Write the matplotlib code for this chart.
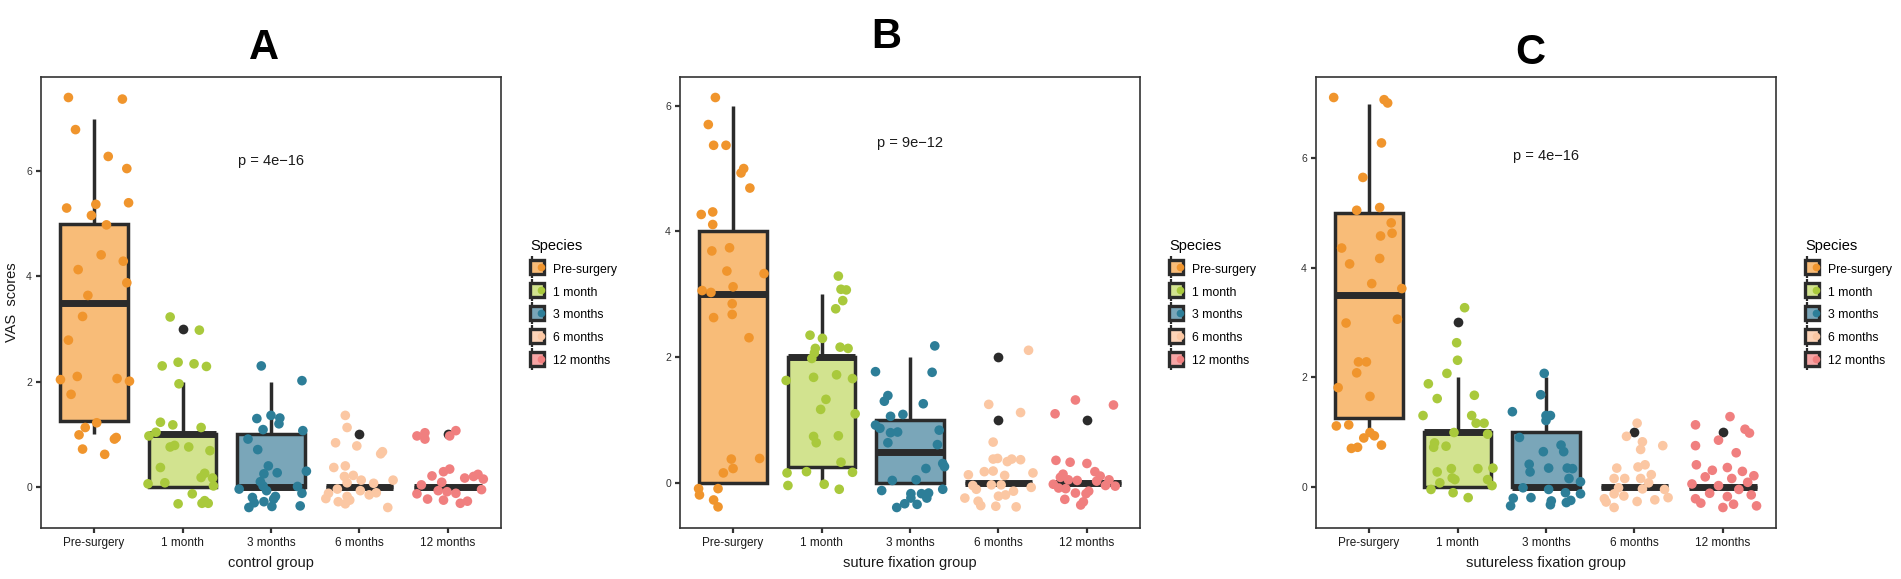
import matplotlib.pyplot as plt
from matplotlib.lines import Line2D
from matplotlib.legend_handler import HandlerTuple

plt.rcParams['font.family'] = ['Liberation Sans', 'DejaVu Sans']

groups = ["Pre-surgery", "1 month", "3 months", "6 months", "12 months"]
dot_colors = ["#F0952D", "#A9C93C", "#2D7E98", "#FBC7A3", "#F07F7F"]
fill_colors = ["#F8BC78", "#D2E38F", "#7AA6B9", "#FDD4B8", "#F6A5A5"]
dark = "#2B2B2B"

panel_titles = ["A", "B", "C"]
x_titles = ["control group", "suture fixation group", "sutureless fixation group"]
p_labels = ["p = 4e\u221216", "p = 9e\u221212", "p = 4e\u221216"]
p_label_y = [6.2, 5.4, 6.05]

# box statistics per group (whisker low, Q1, median, Q3, whisker high)
a_whislo = [1, 0, 0, 0, 0]
a_q1 = [1.25, 0, 0, 0, 0]
a_med = [3.5, 1, 0, 0, 0]
a_q3 = [5, 1, 1, 0, 0]
a_whishi = [7, 2, 2, 0, 0]
a_out = [[], [3], [], [1], [1]]

b_whislo = [0, 0, 0, 0, 0]
b_q1 = [0, 0.25, 0, 0, 0]
b_med = [3, 2, 0.5, 0, 0]
b_q3 = [4, 2, 1, 0, 0]
b_whishi = [6, 3, 2, 0, 0]
b_out = [[], [], [], [1, 2], [1]]

c_whislo = [1, 0, 0, 0, 0]
c_q1 = [1.25, 0, 0, 0, 0]
c_med = [3.5, 1, 0, 0, 0]
c_q3 = [5, 1, 1, 0, 0]
c_whishi = [7, 2, 2, 0, 0]
c_out = [[], [3], [], [1], [1]]

# jittered points: (offset from group centre, score)
a_pre = [(-0.29, 7.40), (0.32, 7.37), (-0.21, 6.79), (0.16, 6.28), (0.37, 6.05), (-0.31, 5.30),
         (0.02, 5.37), (0.39, 5.40), (-0.03, 5.16), (0.14, 4.98), (0.08, 4.41), (0.33, 4.29),
         (-0.18, 4.13), (0.37, 3.88), (-0.07, 3.64), (-0.13, 3.24), (-0.29, 2.79), (-0.19, 2.10),
         (-0.38, 2.04), (0.26, 2.06), (0.40, 2.01), (-0.26, 1.76), (0.03, 1.22), (-0.10, 1.13),
         (-0.17, 0.99), (0.25, 0.94), (0.23, 0.91), (-0.13, 0.72), (0.12, 0.62)]
a_1m = [(-0.14, 3.23), (0.19, 2.98), (-0.23, 2.30), (-0.05, 2.37), (0.13, 2.34), (0.27, 2.29),
        (-0.04, 1.96), (-0.25, 1.23), (-0.11, 1.18), (0.21, 1.13), (-0.30, 1.04), (-0.38, 0.97),
        (-0.14, 0.76), (-0.09, 0.79), (0.07, 0.76), (0.31, 0.69), (-0.25, 0.37), (0.25, 0.26),
        (0.21, 0.18), (0.34, 0.17), (-0.20, 0.08), (-0.39, 0.06), (0.35, 0.02), (0.11, -0.13),
        (-0.05, -0.32), (0.22, -0.31), (0.29, -0.31), (0.25, -0.26)]
a_3m = [(-0.11, 2.30), (0.35, 2.02), (-0.16, 1.30), (0.00, 1.36), (0.10, 1.31), (0.09, 1.20),
        (-0.09, 1.09), (0.36, 1.07), (-0.26, 0.91), (-0.15, 0.71), (-0.03, 0.40), (0.40, 0.30),
        (-0.08, 0.25), (0.07, 0.27), (-0.12, 0.10), (-0.09, 0.02), (0.30, 0.01), (-0.36, -0.04),
        (-0.05, -0.07), (0.35, -0.12), (-0.21, -0.20), (0.05, -0.18), (-0.19, -0.30), (-0.08, -0.28),
        (0.03, -0.23), (-0.25, -0.39), (0.01, -0.37), (0.33, -0.36)]
a_6m = [(-0.16, 1.36), (-0.14, 1.13), (-0.27, 0.84), (-0.03, 0.78), (0.26, 0.67), (0.24, 0.63),
        (-0.29, 0.37), (-0.16, 0.40), (-0.07, 0.22), (-0.17, 0.20), (0.02, 0.13), (0.38, 0.13),
        (-0.14, 0.08), (0.16, 0.07), (-0.25, -0.04), (0.01, -0.07), (0.19, -0.11), (0.11, -0.15),
        (-0.35, -0.12), (-0.38, -0.22), (-0.14, -0.18), (-0.24, -0.28), (-0.16, -0.32), (-0.11, -0.25),
        (0.32, -0.39)]
a_12m = [(-0.35, 0.97), (-0.26, 1.03), (-0.26, 0.91), (0.02, 0.97), (0.09, 1.07), (-0.18, 0.21),
         (-0.05, 0.29), (0.02, 0.34), (0.19, 0.17), (0.29, 0.20), (0.34, 0.24), (-0.30, 0.04),
         (-0.07, 0.09), (-0.35, -0.13), (-0.11, -0.07), (-0.01, -0.09), (0.09, -0.12), (-0.23, -0.23),
         (-0.05, -0.25), (0.14, -0.31), (0.22, -0.27), (0.40, 0.15), (0.38, -0.05)]

b_pre = [(-0.20, 6.13), (-0.28, 5.70), (-0.22, 5.37), (-0.08, 5.37), (0.12, 5.00), (0.09, 4.93),
         (0.19, 4.69), (-0.36, 4.27), (-0.23, 4.31), (-0.23, 4.11), (-0.24, 3.69), (-0.04, 3.74),
         (-0.07, 3.37), (0.35, 3.33), (0.00, 3.12), (-0.35, 3.06), (-0.25, 3.03), (-0.01, 2.85),
         (-0.01, 2.68), (-0.22, 2.63), (0.18, 2.31), (-0.02, 0.38), (0.30, 0.39), (0.00, 0.23),
         (-0.11, 0.16), (-0.39, -0.09), (-0.17, -0.09), (-0.38, -0.19), (-0.22, -0.27), (-0.17, -0.38)]
b_1m = [(0.19, 3.29), (0.22, 3.08), (0.28, 3.07), (0.24, 2.90), (0.16, 2.77), (-0.13, 2.35),
        (0.01, 2.30), (-0.07, 2.14), (-0.08, 2.07), (-0.11, 1.98), (0.21, 2.16), (0.30, 2.14),
        (-0.40, 1.63), (-0.09, 1.68), (0.17, 1.72), (0.35, 1.66), (0.05, 1.33), (-0.01, 1.17),
        (0.38, 1.10), (-0.09, 0.74), (-0.06, 0.64), (0.19, 0.75), (0.22, 0.33), (-0.39, 0.16),
        (-0.17, 0.18), (0.35, 0.17), (-0.38, -0.04), (0.03, -0.02), (0.20, -0.10)]
b_3m = [(0.28, 2.18), (-0.39, 1.77), (0.25, 1.76), (-0.25, 1.39), (-0.29, 1.30), (0.15, 1.26),
        (-0.22, 1.06), (-0.08, 1.09), (-0.39, 0.92), (-0.34, 0.87), (-0.22, 0.80), (-0.14, 0.81),
        (0.33, 0.84), (-0.25, 0.64), (0.31, 0.61), (-0.20, 0.04), (0.07, 0.05), (0.18, 0.23),
        (0.37, 0.31), (0.39, 0.26), (-0.32, -0.12), (0.37, -0.10), (0.01, -0.17), (0.13, -0.17),
        (0.21, -0.16), (0.01, -0.24), (0.19, -0.24), (-0.06, -0.33), (0.08, -0.34), (-0.15, -0.39)]
b_6m = [(0.34, 2.11), (-0.11, 1.25), (0.25, 1.12), (-0.06, 0.65), (-0.06, 0.38), (-0.01, 0.39),
        (0.10, 0.34), (0.15, 0.38), (0.25, 0.37), (-0.16, 0.18), (-0.06, 0.19), (-0.34, 0.13),
        (0.07, 0.12), (0.39, 0.16), (-0.29, -0.04), (-0.08, -0.03), (0.03, -0.03), (-0.25, -0.10),
        (0.17, -0.13), (0.37, -0.07), (0.00, -0.21), (0.08, -0.19), (-0.38, -0.24), (-0.23, -0.29),
        (-0.20, -0.36), (-0.03, -0.37), (0.20, -0.38)]
b_12m = [(-0.13, 1.32), (0.30, 1.24), (-0.36, 1.10), (-0.35, 0.36), (-0.19, 0.33), (0.00, 0.31),
         (0.09, 0.18), (-0.27, 0.14), (0.15, 0.11), (0.25, 0.05), (-0.30, 0.09), (-0.21, 0.05),
         (-0.11, 0.04), (-0.38, -0.02), (0.11, 0.03), (0.21, -0.04), (0.32, -0.05), (-0.32, -0.08),
         (-0.24, -0.09), (0.02, -0.13), (-0.13, -0.16), (-0.25, -0.26), (-0.04, -0.30), (-0.07, -0.35),
         (-0.01, -0.17)]

c_pre = [(-0.40, 7.11), (0.17, 7.07), (0.21, 7.01), (0.14, 6.28), (-0.07, 5.65), (-0.14, 5.05),
         (0.12, 5.10), (0.25, 4.82), (0.13, 4.58), (0.26, 4.63), (-0.31, 4.36), (-0.22, 4.07),
         (0.12, 4.17), (0.03, 3.71), (0.37, 3.62), (-0.26, 2.99), (0.32, 3.06), (-0.12, 2.28),
         (-0.03, 2.28), (-0.14, 2.08), (-0.35, 1.81), (0.01, 1.65), (-0.37, 1.11), (-0.23, 1.13),
         (-0.06, 0.89), (0.01, 0.99), (0.06, 0.93), (0.14, 0.76), (-0.20, 0.70), (-0.13, 0.72)]
c_1m = [(0.08, 3.27), (-0.01, 2.63), (0.00, 2.31), (-0.12, 2.07), (-0.33, 1.88), (-0.23, 1.61),
        (0.19, 1.67), (-0.39, 1.30), (0.16, 1.30), (0.21, 1.16), (0.30, 1.16), (-0.04, 0.99),
        (0.34, 0.96), (-0.26, 0.80), (-0.27, 0.72), (-0.13, 0.74), (-0.23, 0.27), (-0.07, 0.33),
        (0.23, 0.33), (0.40, 0.34), (-0.06, 0.16), (-0.03, 0.13), (0.34, 0.13), (-0.20, 0.07),
        (0.39, 0.02), (-0.30, -0.05), (-0.05, -0.11), (0.12, -0.20)]
c_3m = [(-0.02, 2.07), (-0.06, 1.68), (-0.38, 1.37), (0.00, 1.30), (0.05, 1.30), (0.00, 1.21),
        (-0.30, 0.90), (0.17, 0.76), (-0.03, 0.64), (0.20, 0.64), (-0.19, 0.41), (-0.18, 0.27),
        (0.03, 0.34), (0.24, 0.34), (0.30, 0.33), (0.26, 0.15), (0.39, 0.09), (-0.26, -0.02),
        (0.03, -0.05), (0.22, -0.11), (0.39, -0.13), (-0.37, -0.21), (-0.17, -0.20), (0.28, -0.25),
        (0.06, -0.26), (0.23, -0.29), (0.05, -0.33), (-0.40, -0.35)]
c_6m = [(0.03, 1.16), (-0.09, 0.92), (0.09, 0.82), (0.07, 0.68), (0.32, 0.75), (-0.20, 0.34),
        (0.04, 0.36), (0.12, 0.40), (-0.23, 0.15), (-0.11, 0.15), (0.07, 0.15), (0.19, 0.22),
        (0.16, 0.07), (-0.18, -0.02), (0.09, -0.04), (0.34, -0.05), (-0.34, -0.22), (-0.23, -0.13),
        (-0.12, -0.17), (0.03, -0.27), (0.23, -0.24), (0.38, -0.20), (-0.32, -0.28), (-0.23, -0.38)]
c_12m = [(-0.31, 1.13), (-0.31, 0.75), (0.08, 1.28), (0.25, 1.05), (0.30, 0.98), (-0.05, 0.85),
         (0.15, 0.62), (-0.30, 0.40), (-0.12, 0.30), (0.05, 0.35), (0.22, 0.28), (0.35, 0.20),
         (-0.20, 0.18), (0.10, 0.15), (0.28, 0.08), (-0.35, 0.05), (-0.05, 0.02), (0.18, -0.05),
         (-0.31, -0.22), (-0.15, -0.12), (0.05, -0.18), (0.32, -0.15), (-0.25, -0.30), (0.12, -0.32),
         (0.38, -0.35), (0.00, -0.38)]

panels = [
    (a_whislo, a_q1, a_med, a_q3, a_whishi, a_out, [a_pre, a_1m, a_3m, a_6m, a_12m]),
    (b_whislo, b_q1, b_med, b_q3, b_whishi, b_out, [b_pre, b_1m, b_3m, b_6m, b_12m]),
    (c_whislo, c_q1, c_med, c_q3, c_whishi, c_out, [c_pre, c_1m, c_3m, c_6m, c_12m]),
]

W, H = 1901, 579
fig = plt.figure(figsize=(W / 100, H / 100), dpi=100)

ax_left_px = [41, 680, 1316]
ax_w_px, ax_top_px, ax_bot_px = 460, 77, 528
title_xy_px = [(264, 48), (886, 37), (1530, 53)]

for k, (wlo, q1, med, q3, whi, outs, pts) in enumerate(panels):
    ax = fig.add_axes([ax_left_px[k] / W, 1 - ax_bot_px / H,
                       ax_w_px / W, (ax_bot_px - ax_top_px) / H])

    stats = []
    for i in range(len(groups)):
        stats.append({"whislo": wlo[i], "q1": q1[i], "med": med[i], "q3": q3[i],
                      "whishi": whi[i], "fliers": outs[i]})
    bp = ax.bxp(stats, positions=range(len(groups)), widths=0.76, patch_artist=True,
                showcaps=False,
                boxprops=dict(edgecolor=dark, linewidth=2.5),
                whiskerprops=dict(color=dark, linewidth=2.5, solid_capstyle="butt"),
                medianprops=dict(color=dark, linewidth=5, solid_capstyle="butt"),
                flierprops=dict(marker="o", markerfacecolor=dark, markeredgecolor="none",
                                markersize=7))
    for patch, fc in zip(bp["boxes"], fill_colors):
        patch.set_facecolor(fc)
        patch.set_joinstyle("miter")
        patch.set_zorder(2)

    all_y = []
    for i, grp in enumerate(pts):
        xs = [i + dx for dx, _ in grp]
        ys = [y for _, y in grp]
        all_y += ys
        ax.scatter(xs, ys, s=48, color=dot_colors[i], edgecolors="none", zorder=4)

    lo, hi = min(all_y), max(all_y)
    pad = 0.05 * (hi - lo)
    ax.set_ylim(lo - pad, hi + pad)
    ax.set_xlim(-0.6, len(groups) - 0.4)

    ax.set_xticks(range(len(groups)))
    ax.set_xticklabels(groups, fontsize=8.5, color="#1a1a1a")
    ax.set_yticks([0, 2, 4, 6])
    ax.set_yticklabels(["0", "2", "4", "6"], fontsize=7.5, color="#333333")
    ax.tick_params(axis="both", length=3.5, width=1.6, color="#333333", pad=3)
    for sp in ax.spines.values():
        sp.set_linewidth(1.2)
        sp.set_color("#333333")

    ax.set_xlabel(x_titles[k], fontsize=10.5, color="#1a1a1a", labelpad=5)
    if k == 0:
        ax.set_ylabel("VAS  scores", fontsize=10.5, color="#1a1a1a", labelpad=5)

    ax.text(2, p_label_y[k], p_labels[k], ha="center", va="center", fontsize=10.5,
            color="#1a1a1a")

    handles = []
    for i in range(len(groups)):
        handles.append((
            Line2D([], [], color=dark, marker="|", markersize=16, mew=1.6, ls="none"),
            Line2D([], [], marker="s", markersize=10, markerfacecolor=fill_colors[i],
                   markeredgecolor=dark, mew=2.4, ls="none"),
            Line2D([], [], color=dot_colors[i], marker="o", markersize=4.5, ls="none"),
        ))
    ax.legend(handles, groups, title="Species", loc="upper left",
              bbox_to_anchor=(1.05, 0.655), frameon=False, fontsize=8.8,
              title_fontsize=10.5, alignment="left", borderpad=0,
              handlelength=1.1, handleheight=1.3, labelspacing=0.75,
              handletextpad=0.8,
              handler_map={tuple: HandlerTuple(ndivide=None)})

    tx, ty = title_xy_px[k]
    fig.text(tx / W, 1 - ty / H, panel_titles[k], ha="center", va="center",
             fontsize=30, fontweight="bold")

fig.savefig("out.png", dpi=100)
